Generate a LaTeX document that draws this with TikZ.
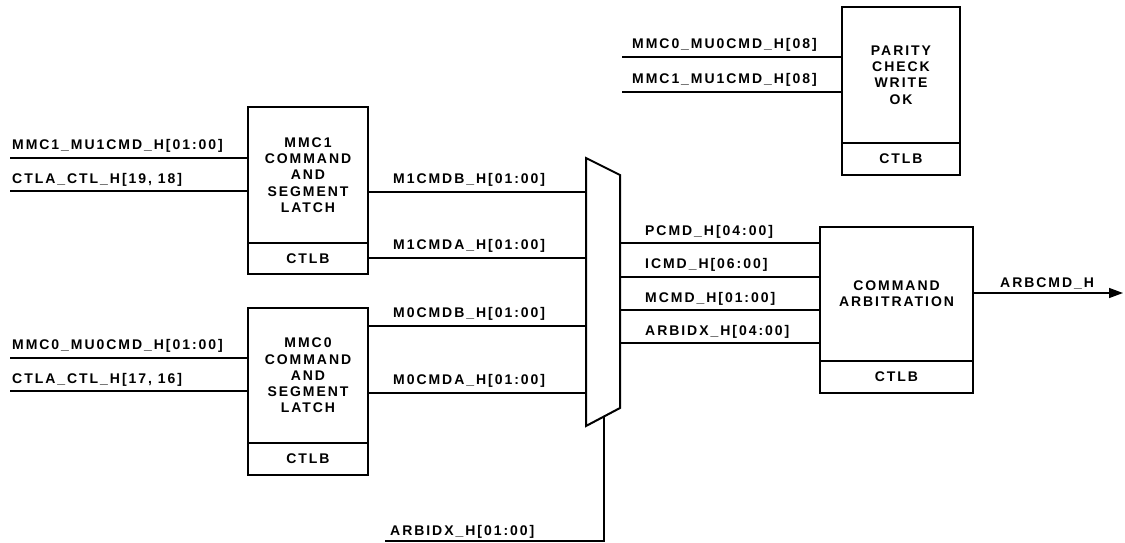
\documentclass[tikz,border=0pt]{standalone}
\usepackage{fontspec}
\setmainfont{Liberation Sans}[LetterSpace=14]
\usetikzlibrary{arrows.meta}
\begin{document}
\begin{tikzpicture}[x=1pt,y=-1pt,
  every node/.style={font=\fontsize{14}{16.3}\selectfont\bfseries},
  wire/.style={line width=1.4pt},
  boxpart/.style={draw,line width=2pt,inner sep=0pt,outer sep=0pt,align=center},
  lbl/.style={anchor=base west,inner sep=0pt}]
\useasboundingbox (0,0) rectangle (1125,543);
% boxes
\node[boxpart,minimum width=120pt,minimum height=136pt] (mmc1) at (308,175) {MMC1\\COMMAND\\AND\\SEGMENT\\LATCH};
\node[boxpart,minimum width=120pt,minimum height=31pt] (mmc1c) at (308,258.5) {CTLB};
\node[boxpart,minimum width=120pt,minimum height=135pt] (mmc0) at (308,375.5) {MMC0\\COMMAND\\AND\\SEGMENT\\LATCH};
\node[boxpart,minimum width=120pt,minimum height=32pt] (mmc0c) at (308,459) {CTLB};
\node[boxpart,minimum width=118pt,minimum height=136pt] (par) at (901,75) {PARITY\\CHECK\\WRITE\\OK};
\node[boxpart,minimum width=118pt,minimum height=32pt] (parc) at (901,159) {CTLB};
\node[boxpart,minimum width=153pt,minimum height=134pt] (arb) at (896.5,294) {COMMAND\\ARBITRATION};
\node[boxpart,minimum width=153pt,minimum height=32pt] (arbc) at (896.5,377) {CTLB};
% mux
\coordinate (muxTL) at (586,158);
\coordinate (muxTR) at (620,175);
\coordinate (muxBR) at (620,408);
\coordinate (muxBL) at (586,426);
\draw[line width=2pt,line join=miter] (muxTL) -- (muxTR) -- (muxBR) -- (muxBL) -- cycle;
% free ends
\coordinate (a1) at (10,158);
\coordinate (a2) at (10,191);
\coordinate (b1) at (10,358);
\coordinate (b2) at (10,391);
\coordinate (p1) at (622,57);
\coordinate (p2) at (622,92);
\coordinate (m1) at (0,192);
\coordinate (m2) at (0,258);
\coordinate (m3) at (0,326);
\coordinate (m4) at (0,393);
\coordinate (o1) at (0,243);
\coordinate (o2) at (0,277);
\coordinate (o3) at (0,310);
\coordinate (o4) at (0,343);
\coordinate (sel) at (604,417);
\coordinate (selc) at (604,541);
\coordinate (sele) at (385,541);
\coordinate (out) at (1123,293);
% inputs to latches
\draw[wire] (a1) -- (a1 -| mmc1.west);
\draw[wire] (a2) -- (a2 -| mmc1.west);
\draw[wire] (b1) -- (b1 -| mmc0.west);
\draw[wire] (b2) -- (b2 -| mmc0.west);
\node[lbl] (la1) at (12,149) {MMC1\_MU1CMD\_H[01:00]};
\node[lbl] (la2) at (12,183) {CTLA\_CTL\_H[19, 18]};
\node[lbl] (lb1) at (12,349) {MMC0\_MU0CMD\_H[01:00]};
\node[lbl] (lb2) at (12,383) {CTLA\_CTL\_H[17, 16]};
% parity inputs
\draw[wire] (p1) -- (p1 -| par.west);
\draw[wire] (p2) -- (p2 -| par.west);
\node[lbl] (lp1) at (632,49) {MMC0\_MU0CMD\_H[08]};
\node[lbl] (lp2) at (632,84) {MMC1\_MU1CMD\_H[08]};
% latch to mux
\draw[wire] (m1 -| mmc1.east) -- (m1 -| muxTL);
\draw[wire] (m2 -| mmc1.east) -- (m2 -| muxTL);
\draw[wire] (m3 -| mmc0.east) -- (m3 -| muxTL);
\draw[wire] (m4 -| mmc0.east) -- (m4 -| muxTL);
\node[lbl] (lm1) at (393,183) {M1CMDB\_H[01:00]};
\node[lbl] (lm2) at (393,249) {M1CMDA\_H[01:00]};
\node[lbl] (lm3) at (393,317) {M0CMDB\_H[01:00]};
\node[lbl] (lm4) at (393,384) {M0CMDA\_H[01:00]};
% mux to arbitration
\draw[wire] (o1 -| muxTR) -- (o1 -| arb.west);
\draw[wire] (o2 -| muxTR) -- (o2 -| arb.west);
\draw[wire] (o3 -| muxTR) -- (o3 -| arb.west);
\draw[wire] (o4 -| muxTR) -- (o4 -| arb.west);
\node[lbl] (lo1) at (645,235) {PCMD\_H[04:00]};
\node[lbl] (lo2) at (645,268) {ICMD\_H[06:00]};
\node[lbl] (lo3) at (645,302) {MCMD\_H[01:00]};
\node[lbl] (lo4) at (645,335) {ARBIDX\_H[04:00]};
% select
\draw[wire] (sel) -- (selc) -- (sele);
\node[lbl] (lsel) at (390,535) {ARBIDX\_H[01:00]};
% output
\draw[wire,-{Triangle[length=14pt,width=10pt]}] (out -| arb.east) -- (out);
\node[lbl] (lout) at (1000,287) {ARBCMD\_H};
\end{tikzpicture}
\end{document}
